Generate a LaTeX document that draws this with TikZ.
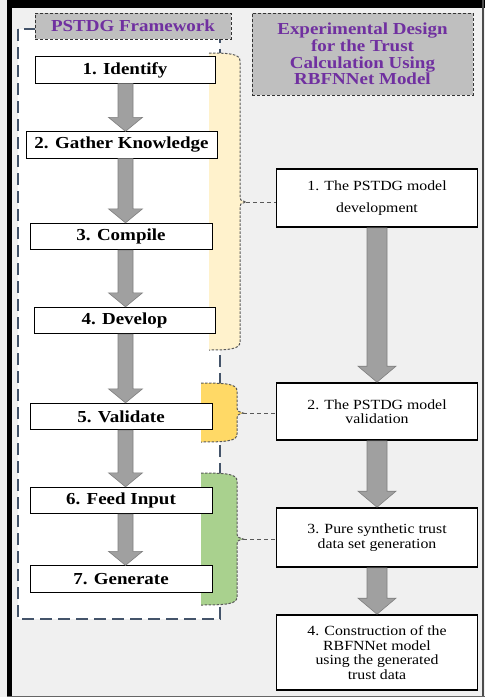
\documentclass[tikz,border=0pt]{standalone}
\usepackage{fontspec}
\setmainfont{Liberation Serif}[
    UprightFont=*,
    BoldFont=* Bold,
    ItalicFont=* Italic,
    BoldItalicFont=* Bold Italic,
    FakeStretch=1.13]
\usetikzlibrary{positioning, calc}
\definecolor{panelgray}{HTML}{F0F0F0}
\definecolor{titlegray}{HTML}{BFBFBF}
\definecolor{titlepurple}{HTML}{7030A0}
\definecolor{framenavy}{HTML}{44546A}
\definecolor{arrowfill}{HTML}{A0A0A0}
\definecolor{arrowedge}{HTML}{7F7F7F}
\definecolor{braceedge}{HTML}{595959}
\definecolor{developyellow}{HTML}{FFF2CC}
\definecolor{validateorange}{HTML}{FFD966}
\definecolor{generategreen}{HTML}{A9D18E}

\begin{document}
\begin{tikzpicture}[
    x=1pt, y=-1pt,
    % Node styles
    phase box/.style={
        draw=black,
        fill=white,
        line width=0.8pt,
        minimum height=26.5pt,
        inner sep=0pt,
        font=\bfseries\fontsize{16.8}{18}\selectfont
    },
    design box/.style={
        draw=black,
        fill=white,
        line width=1.6pt,
        minimum width=201pt,
        inner sep=0pt,
        align=center,
        font=\fontsize{14}{14.5}\selectfont
    },
    title box/.style={
        draw=black!80,
        fill=titlegray,
        dash pattern=on 3pt off 2pt,
        line width=1pt,
        inner sep=0pt,
        align=center,
        text=titlepurple,
        font=\bfseries\fontsize{16.8}{16.8}\selectfont
    },
    flow arrow/.style={
        fill=arrowfill,
        draw=arrowedge,
        line width=0.6pt
    },
    brace/.style={
        draw=braceedge,
        dash pattern=on 2.5pt off 1.5pt,
        line width=1pt
    },
    link/.style={
        draw=braceedge,
        dash pattern=on 4pt off 3pt,
        line width=1pt
    },
    frame/.style={
        draw=framenavy,
        dash pattern=on 12pt off 6pt,
        line width=1.8pt
    }
]

\useasboundingbox (0,0) rectangle (485,697);

% Screen background and border
\fill[panelgray] (0,0) rectangle (485,697);
\fill[black] (7,0) rectangle (12,697);
\fill[black] (7,0) rectangle (485,8);
\fill[black!70] (482,0) rectangle (484,697);
\fill[black!60] (7,695.5) rectangle (485,697);

% Framework panel
\draw[frame, fill=white] (18,29) rectangle (220,619);

% Braces grouping the phases
\foreach \col/\L/\R/\T/\B/\M in {developyellow/209/240/53/350/202, validateorange/201/237/383/442/413, generategreen/201/237/473/605/539} {
    \filldraw[brace, fill=\col] (\L,\T) .. controls (\R-10,\T) and (\R,\T+1) .. (\R,\T+8)
        -- (\R,\M-5) .. controls (\R,\M-2) .. (\R+6,\M)
        .. controls (\R,\M+2) .. (\R,\M+5)
        -- (\R,\B-8) .. controls (\R,\B-1) and (\R-10,\B) .. (\L,\B);
}
\coordinate (develop tip) at (246,202);
\coordinate (validate tip) at (243,413);
\coordinate (generate tip) at (243,539);

% Arrow axes
\coordinate (left axis) at (125.5,0);
\coordinate (right axis) at (377,0);

% Block arrow: from, to, axis, shaft half width, head half width, head length
\def\flowarrow#1#2#3#4#5#6{%
    \path[flow arrow] let \p1=(#1.south -| #3), \p2=(#2.north -| #3) in
        (\x1-#4,\y1) -- (\x1-#4,\y2+#6) -- (\x1-#5,\y2+#6) -- (\x2,\y2)
        -- (\x1+#5,\y2+#6) -- (\x1+#4,\y2+#6) -- (\x1+#4,\y1) -- cycle;
}

% Framework phases (7 steps)
\foreach \i/\cx/\cy/\w/\txt in {
    1/125/70/180/{1. Identify},
    2/121.5/145/191/{2. Gather Knowledge},
    3/121/236.5/182/{3. Compile},
    4/124.5/320.5/181/{4. Develop},
    5/121/416.5/182/{5. Validate},
    6/121/500.5/182/{6. Feed Input},
    7/121/579/182/{7. Generate}} {
    \node[phase box, minimum width=\w pt] (P-\i) at (\cx,\cy) {\txt};
}

\foreach \i/\j in {1/2, 2/3, 3/4, 4/5, 5/6, 6/7} {
    \flowarrow{P-\i}{P-\j}{left axis}{7.5pt}{17pt}{14pt}
}

% Experimental design steps (4 steps)
\foreach \i/\cy/\h/\txt in {
    1/198/58/{1. The PSTDG model\\[8pt]development},
    2/411.5/57/{2. The PSTDG model\\validation},
    3/537.5/59/{3. Pure synthetic trust\\data set generation},
    4/652.5/75/{4. Construction of the\\RBFNNet model\\using the generated\\trust data}} {
    \node[design box, minimum height=\h pt] (E-\i) at (377,\cy) {\txt};
}

\foreach \i/\j in {1/2, 2/3, 3/4} {
    \flowarrow{E-\i}{E-\j}{right axis}{10pt}{19pt}{16pt}
}

% Panel titles
\node[title box, minimum width=196pt, minimum height=26pt] (framework title) at (133,26) {PSTDG Framework};
\node[title box, minimum width=221pt, minimum height=82pt] (design title) at (362.5,54)
    {Experimental Design\\for the Trust\\Calculation Using\\RBFNNet Model};

% Links from braces to design steps
\draw[link] (develop tip) -- (develop tip -| E-1.west);
\draw[link] (validate tip) -- (validate tip -| E-2.west);
\draw[link] (generate tip) -- (generate tip -| E-3.west);

\end{tikzpicture}
\end{document}
